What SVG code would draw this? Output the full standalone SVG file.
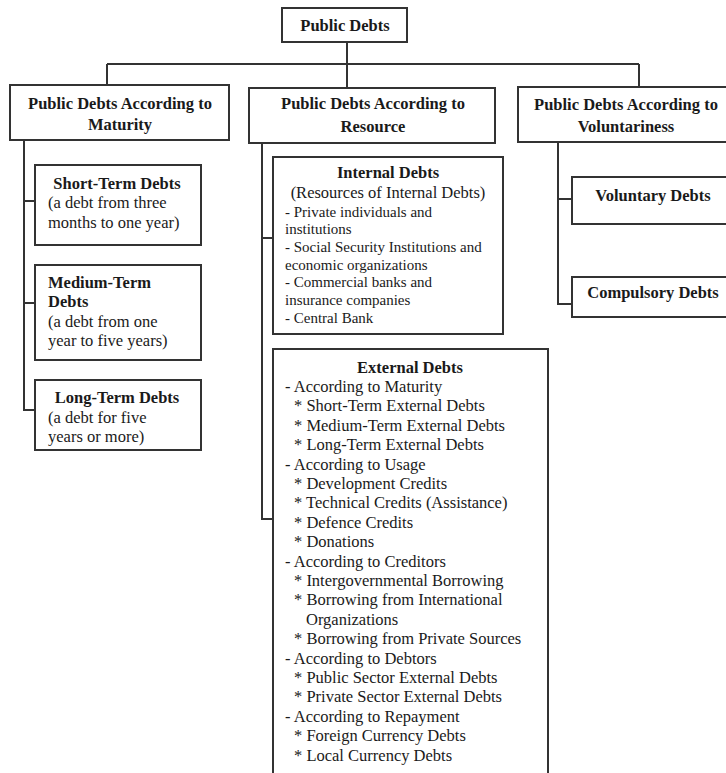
<svg xmlns="http://www.w3.org/2000/svg" width="726" height="773" viewBox="0 0 726 773">
<style>
.box{fill:#fff;stroke:#333;stroke-width:2}
.ln{fill:none;stroke:#333;stroke-width:2}
text{font-family:"Liberation Serif","Times New Roman",serif;fill:#1a1a1a;font-size:16.5px}
.b{font-weight:bold}
.c{text-anchor:middle}
.s{font-size:15px}
</style>
<rect width="726" height="773" fill="#fff"/>
<g id="connectors">
<path class="ln" d="M347 42V88M107 64H639M107 64V85M639 64V87"/>
<path class="ln" d="M24 140V410H35M24 201H35M24 303H35"/>
<path class="ln" d="M262 143V519H273M262 238H273"/>
<path class="ln" d="M558 142V304H572M558 199H572"/>
</g>
<g id="root">
<rect class="box" x="282" y="8" width="125" height="34"/>
<text class="b c" x="345" y="31">Public Debts</text>
</g>
<g id="maturity">
<rect class="box" x="10" y="85" width="219" height="55"/>
<text class="b c" x="120" y="109">Public Debts According to</text>
<text class="b c" x="120" y="130">Maturity</text>
</g>
<g id="resource">
<rect class="box" x="249" y="88" width="246" height="55"/>
<text class="b c" x="373" y="109">Public Debts According to</text>
<text class="b c" x="373" y="132">Resource</text>
</g>
<g id="voluntariness">
<rect class="box" x="518" y="87" width="212" height="55"/>
<text class="b c" x="626" y="110">Public Debts According to</text>
<text class="b c" x="626" y="132">Voluntariness</text>
</g>
<g id="short-term">
<rect class="box" x="35" y="165" width="166" height="80"/>
<text class="b c" x="117" y="189">Short-Term Debts</text>
<text x="48" y="208">(a debt from three</text>
<text x="48" y="228">months to one year)</text>
</g>
<g id="medium-term">
<rect class="box" x="35" y="265" width="166" height="95"/>
<text class="b" x="48" y="288">Medium-Term</text>
<text class="b" x="48" y="307">Debts</text>
<text x="48" y="327">(a debt from one</text>
<text x="48" y="346">year to five years)</text>
</g>
<g id="long-term">
<rect class="box" x="35" y="380" width="166" height="70"/>
<text class="b c" x="117" y="403">Long-Term Debts</text>
<text x="48" y="423">(a debt for five</text>
<text x="48" y="442">years or more)</text>
</g>
<g id="internal">
<rect class="box" x="273" y="157" width="230" height="177"/>
<text class="b c" x="388" y="178">Internal Debts</text>
<text class="c" x="388" y="198">(Resources of Internal Debts)</text>
<text class="s" x="285" y="216.5">- Private individuals and</text>
<text class="s" x="285" y="234.2">institutions</text>
<text class="s" x="285" y="251.9">- Social Security Institutions and</text>
<text class="s" x="285" y="269.6">economic organizations</text>
<text class="s" x="285" y="287.3">- Commercial banks and</text>
<text class="s" x="285" y="305">insurance companies</text>
<text class="s" x="285" y="322.7">- Central Bank</text>
</g>
<g id="external">
<rect class="box" x="273" y="349" width="275" height="440"/>
<text class="b c" x="410" y="373">External Debts</text>
<text x="285" y="392">- According to Maturity</text>
<text x="294" y="411.4">* Short-Term External Debts</text>
<text x="294" y="430.8">* Medium-Term External Debts</text>
<text x="294" y="450.2">* Long-Term External Debts</text>
<text x="285" y="469.6">- According to Usage</text>
<text x="294" y="489">* Development Credits</text>
<text x="294" y="508.4">* Technical Credits (Assistance)</text>
<text x="294" y="527.8">* Defence Credits</text>
<text x="294" y="547.2">* Donations</text>
<text x="285" y="566.6">- According to Creditors</text>
<text x="294" y="586">* Intergovernmental Borrowing</text>
<text x="294" y="605.4">* Borrowing from International</text>
<text x="306" y="624.8">Organizations</text>
<text x="294" y="644.2">* Borrowing from Private Sources</text>
<text x="285" y="663.6">- According to Debtors</text>
<text x="294" y="683">* Public Sector External Debts</text>
<text x="294" y="702.4">* Private Sector External Debts</text>
<text x="285" y="721.8">- According to Repayment</text>
<text x="294" y="741.2">* Foreign Currency Debts</text>
<text x="294" y="760.6">* Local Currency Debts</text>
</g>
<g id="voluntary">
<rect class="box" x="572" y="177" width="158" height="47"/>
<text class="b c" x="653" y="201">Voluntary Debts</text>
</g>
<g id="compulsory">
<rect class="box" x="572" y="277" width="158" height="40"/>
<text class="b c" x="653" y="298">Compulsory Debts</text>
</g>
</svg>
